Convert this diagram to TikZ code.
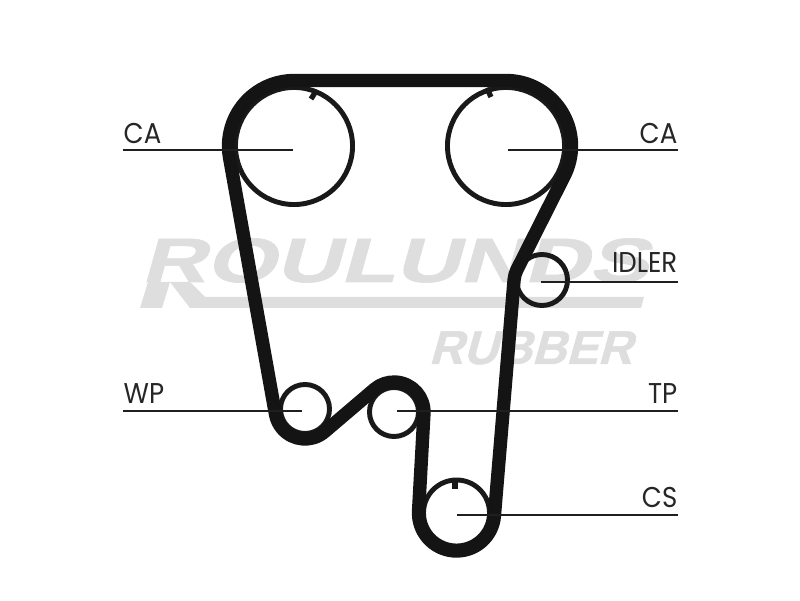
\documentclass[tikz,border=0pt]{standalone}
\usepackage{fontspec}
\setmainfont{Poppins}
\newfontfamily\markfont[FakeBold=1]{Liberation Sans}
\usetikzlibrary{positioning}

\begin{document}
\begin{tikzpicture}[x=0.01cm, y=0.01cm,
			pulley/.style={circle, draw=black!90, line width=1.4pt, inner sep=0pt, outer sep=0pt},
			belt/.style={draw=black!92, line width=3.8pt, line join=round},
			leader/.style={draw=black!88, line width=0.7pt},
			notch/.style={draw=black!90, line width=1.5pt},
			tag/.style={inner sep=0pt, text=black!85, font=\fontsize{7.4}{9}\selectfont, yscale=1.1, transform shape},
			brandtext/.style={inner sep=0pt, text=black!13, font=\markfont\bfseries, xslant=0.28, transform shape}
		]
		\useasboundingbox (0,0) rectangle (800,600);
		% Watermark
		\node [brandtext, anchor=base west, xscale=1.43] (brand) at (140,318) {\fontsize{17.8}{20}\selectfont ROULUNDS};
		\node [brandtext, anchor=base west] (rubber) at (428,236) {\fontsize{13.5}{16}\selectfont RUBBER};
		\fill [black!13] (140,292) -- (162,292) -- (170,318) -- (148,318) -- cycle;
		\fill [black!13] (170,318) -- (190,318) -- (205,303) -- (644,303) -- (641,292) -- (190,292) -- cycle;
		% Place pulleys
		\node [pulley, minimum size=1.17cm] (camleft) at (294,454) {};
		\node [pulley, minimum size=1.17cm] (camright) at (506,454) {};
		\node [pulley, minimum size=0.51cm] (idler) at (542,320) {};
		\node [pulley, minimum size=0.49cm] (pump) at (305,191) {};
		\node [pulley, minimum size=0.49cm] (tensioner) at (394,188) {};
		\node [pulley, minimum size=0.66cm] (crank) at (456.5,87) {};
		% Timing marks
		\draw [notch] (316.7,510) -- (311,501);
		\draw [notch] (486.7,512) -- (491,503);
		\draw [notch] (455,120) -- (455,111);
		% Belt
		\path [belt] (294,519.5) -- (506,519.5) arc (90:-26.77:65.5)
			-- (516.89,330.16) arc (153.23:175.22:27)
			-- (494.37,83.82) arc (-4.78:-183.17:38)
			-- (423.95,186.34) arc (-3.17:130.43:30)
			-- (324.45,168.16) arc (-49.57:-169.86:30)
			-- (229.52,442.47) arc (190.14:90:65.5) -- cycle;
		% Place labels
		\node [tag, anchor=south west] (caleft) at (123,456) {CA};
		\node [tag, anchor=south east] (caright) at (678,456) {CA};
		\node [tag, anchor=south east] (idlertag) at (678,327) {IDLER};
		\node [tag, anchor=south west] (wp) at (123,196) {WP};
		\node [tag, anchor=south east] (tp) at (678,196) {TP};
		\node [tag, anchor=south east] (cs) at (678,92) {CS};
		% Line ends
		\coordinate (caleftend) at (293,450);
		\coordinate (carightend) at (508,450);
		\coordinate (idlerend) at (541,318);
		\coordinate (wpend) at (302,189);
		\coordinate (tpend) at (397,189);
		\coordinate (csend) at (457,85);
		% Draw leaders
		\path [leader] (caleftend) -- (caleftend -| caleft.west);
		\path [leader] (carightend) -- (carightend -| caright.east);
		\path [leader] (idlerend) -- (idlerend -| idlertag.east);
		\path [leader] (wpend) -- (wpend -| wp.west);
		\path [leader] (tpend) -- (tpend -| tp.east);
		\path [leader] (csend) -- (csend -| cs.east);
	\end{tikzpicture}
\end{document}
